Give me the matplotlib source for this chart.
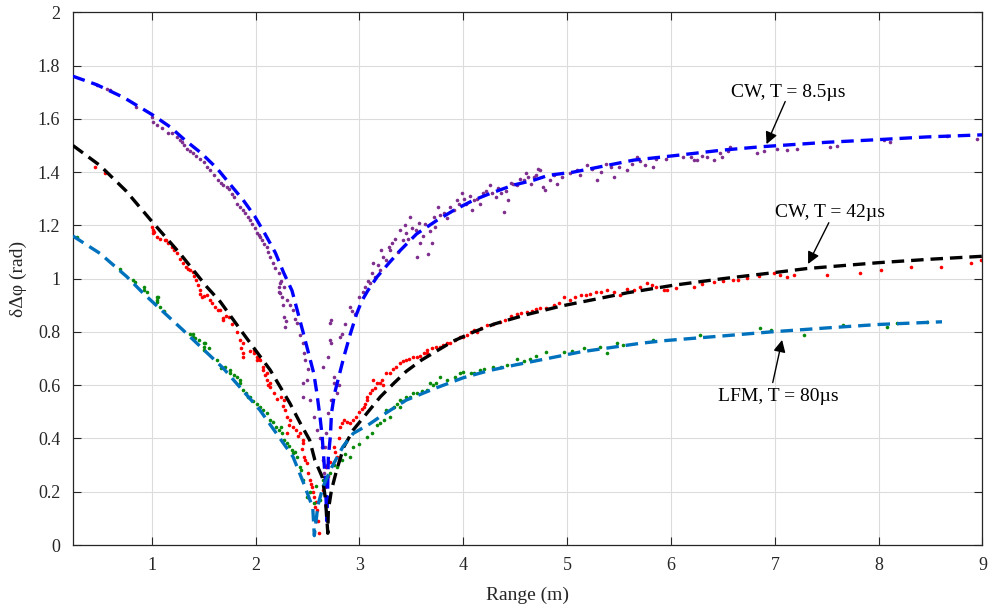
import matplotlib
matplotlib.use("Agg")
import matplotlib.pyplot as plt
from matplotlib.ticker import FuncFormatter

plt.rcParams['font.family'] = ['Liberation Serif', 'DejaVu Serif']
plt.rcParams['lines.scale_dashes'] = False

# ---------------- data ----------------
# fitted curves
cw85_x = [0.24, 0.47, 0.73, 1.015, 1.175, 1.32, 1.48, 1.63, 1.75, 1.88, 1.99, 2.09, 2.19, 2.27, 2.35, 2.40, 2.46, 2.51,
          2.56, 2.59, 2.62, 2.64, 2.655, 2.67, 2.68, 2.685,
          2.69, 2.70, 2.72, 2.73, 2.76, 2.85, 2.91, 2.97, 3.02, 3.08, 3.17, 3.28, 3.39, 3.55, 3.75, 3.91, 4.10, 4.26,
          4.48, 4.68, 4.82, 5.06, 5.64, 6.06, 6.48, 6.86, 7.5, 8.0, 8.46, 9.0]
cw85_y = [1.76, 1.728, 1.68, 1.613, 1.57, 1.52, 1.47, 1.413, 1.356, 1.295, 1.235, 1.168, 1.097, 1.022, 0.955, 0.882,
          0.794, 0.719, 0.644, 0.569, 0.48, 0.41, 0.33, 0.25, 0.15, 0.09,
          0.15, 0.33, 0.41, 0.494, 0.569, 0.707, 0.79, 0.865, 0.915, 0.955, 1.007, 1.057, 1.105, 1.168, 1.22, 1.257,
          1.295, 1.32, 1.351, 1.37, 1.388, 1.40, 1.445, 1.463, 1.482, 1.495, 1.512, 1.522, 1.532, 1.54]

cw42_x = [0.24, 0.5, 0.75, 1.0, 1.27, 1.53, 1.66, 1.88, 2.14, 2.33, 2.43, 2.52, 2.57, 2.64, 2.67, 2.685, 2.695,
          2.70, 2.73, 2.78, 2.85, 2.94, 3.07, 3.20, 3.33, 3.45, 3.6, 3.78, 3.9, 4.1, 4.3, 4.61, 4.94, 5.3, 5.58, 6.02,
          6.5, 7.0, 7.31, 8.0, 8.5, 9.0]
cw42_y = [1.50, 1.425, 1.33, 1.215, 1.095, 0.969, 0.913, 0.794, 0.657, 0.532, 0.457, 0.394, 0.319, 0.256, 0.18, 0.10,
          0.044, 0.131, 0.206, 0.281, 0.369, 0.432, 0.494, 0.556, 0.607, 0.652, 0.695, 0.737, 0.765, 0.80, 0.83, 0.865,
          0.897, 0.925, 0.947, 0.975, 1.0, 1.023, 1.038, 1.06, 1.073, 1.084]

lfm_x = [0.24, 0.5, 0.76, 0.92, 1.30, 1.69, 2.04, 2.36, 2.46, 2.55, 2.565,
         2.60, 2.65, 2.73, 2.84, 2.94, 3.1, 3.2, 3.45, 3.74, 4.0, 4.25, 4.5, 5.13, 5.7, 5.93, 6.5, 6.96, 7.5, 8.0, 8.61]
lfm_y = [1.16, 1.095, 1.007, 0.944, 0.807, 0.663, 0.507, 0.331, 0.234, 0.14, 0.035,
         0.15, 0.22, 0.29, 0.369, 0.419, 0.455, 0.482, 0.544, 0.59, 0.628, 0.655, 0.676, 0.725, 0.757, 0.767, 0.785,
         0.80, 0.815, 0.828, 0.838]

# measured points, CW T = 8.5 us
p85_x = [0.47, 0.57, 0.60, 0.85, 1.00, 1.015, 1.05, 1.19, 1.24, 1.29, 1.34, 1.40, 1.46, 1.50, 1.56, 1.64, 1.69, 1.74,
         1.79, 1.82, 1.88, 1.93, 1.95, 1.96, 2.01, 2.04, 2.06, 2.11, 2.14, 2.17, 2.22, 2.22, 2.235, 2.22, 2.23, 2.25,
         2.27, 2.27, 2.28, 2.30, 2.36, 2.40, 2.46, 2.48, 2.49, 2.46, 2.46, 2.52, 2.56, 2.59, 2.62, 2.64, 2.65, 2.66,
         2.65, 2.67, 2.68, 2.69, 2.70, 2.70, 2.72, 2.72, 2.73, 2.73, 2.73, 2.75, 2.75, 2.78, 2.81, 2.83, 2.91, 2.96,
         3.05, 3.10, 3.13, 3.15, 3.20, 3.21, 3.26, 3.29, 3.31, 3.39, 3.42, 3.45, 3.49, 3.54, 3.55, 3.58, 3.63, 3.66,
         3.70, 3.73, 3.76, 3.81, 3.84, 3.91, 3.94, 3.99, 4.03, 4.08, 4.10, 4.16, 4.19, 4.26, 4.31, 4.36, 4.39, 4.43,
         4.48, 4.55, 4.58, 4.60, 4.65, 4.68, 4.72, 4.74, 4.77, 4.79, 4.87, 4.90, 5.03, 5.09, 5.19, 5.29, 5.37, 5.42,
         5.45, 5.58, 5.67, 5.75, 5.83, 5.86, 6.12, 6.19, 6.22, 6.25, 6.35, 6.41, 6.47, 6.49, 6.57, 6.83, 7.02, 7.12,
         7.21, 7.53, 7.60, 8.05, 8.11, 8.66, 8.95,
         1.10, 1.16, 1.27, 1.31, 1.37, 1.43, 1.53, 1.60, 1.67, 1.72, 1.77, 1.85, 1.90, 1.99, 2.03, 2.08, 2.12, 2.19,
         2.24, 2.26, 2.29, 2.33, 2.38, 2.43, 2.47, 2.50,
         2.80, 2.86, 2.93, 3.00, 3.03, 3.08, 3.12, 3.18, 3.23, 3.28, 3.34, 3.37, 3.44, 3.47, 3.51, 3.57, 3.61, 3.68,
         3.72, 3.78, 3.87, 3.96, 4.01, 4.06, 4.13, 4.22, 4.28, 4.33, 4.41, 4.46, 4.52, 4.62, 4.70, 4.83, 4.95, 5.12,
         5.24, 5.33, 5.50, 5.62, 5.70, 5.95, 6.30, 6.55, 6.90]
p85_y = [1.726, 1.713, 1.71, 1.645, 1.607, 1.588, 1.576, 1.545, 1.532, 1.513, 1.488, 1.47, 1.451, 1.438, 1.407, 1.37,
         1.351, 1.338, 1.307, 1.282, 1.257, 1.232, 1.22, 1.207, 1.17, 1.157, 1.144, 1.12, 1.082, 1.057, 1.02, 0.969,
         0.982, 0.95, 0.945, 0.932, 0.969, 0.857, 0.819, 0.919, 0.882, 0.832, 0.757, 0.694, 0.619, 0.556, 0.607, 0.544,
         0.482, 0.432, 0.40, 0.369, 0.319, 0.27, 0.669, 0.369, 0.419, 0.30, 0.494, 0.707, 0.769, 0.832, 0.844, 0.544,
         0.757, 0.607, 0.632, 0.569, 0.782, 0.794, 0.894, 0.869, 0.969, 0.982, 1.057, 1.007, 1.032, 1.107, 1.069,
         1.107, 1.132, 1.182, 1.144, 1.17, 1.232, 1.182, 1.082, 1.132, 1.207, 1.094, 1.132, 1.195, 1.27, 1.245, 1.226,
         1.257, 1.295, 1.32, 1.282, 1.257, 1.295, 1.282, 1.32, 1.351, 1.307, 1.32, 1.251, 1.295, 1.357, 1.376, 1.37,
         1.395, 1.357, 1.382, 1.413, 1.407, 1.345, 1.332, 1.388, 1.357, 1.395, 1.407, 1.426, 1.37, 1.432, 1.42, 1.382,
         1.407, 1.457, 1.426, 1.42, 1.451, 1.457, 1.457, 1.445, 1.445, 1.457, 1.445, 1.47, 1.457, 1.495, 1.47, 1.488,
         1.482, 1.485, 1.495, 1.497, 1.52, 1.513, 1.535, 1.526,
         1.565, 1.548, 1.52, 1.50, 1.478, 1.46, 1.42, 1.39, 1.36, 1.345, 1.318, 1.27, 1.245, 1.19, 1.165, 1.13, 1.10,
         1.04, 0.99, 0.90, 0.84, 0.90, 0.85, 0.79, 0.72, 0.66,
         0.60, 0.83, 0.88, 0.93, 0.95, 0.99, 1.02, 1.05, 1.08, 1.12, 1.15, 1.10, 1.20, 1.15, 1.19, 1.21, 1.16, 1.18,
         1.23, 1.24, 1.27, 1.28, 1.30, 1.31, 1.30, 1.33, 1.32, 1.34, 1.33, 1.36, 1.35, 1.38, 1.39, 1.37, 1.38, 1.39,
         1.41, 1.40, 1.42, 1.43, 1.44, 1.45, 1.46, 1.48, 1.48]

# measured points, CW T = 42 us
p42_x = [0.45, 0.55, 1.00, 1.015, 1.015, 1.05, 1.13, 1.14, 1.16, 1.21, 1.24, 1.30, 1.35, 1.37, 1.40, 1.43, 1.46, 1.46,
         1.48, 1.53, 1.56, 1.64, 1.66, 1.69, 1.69, 1.74, 1.85, 1.88, 1.88, 1.88, 1.98, 1.98, 2.01, 2.01, 2.04, 2.07,
         2.07, 2.11, 2.11, 2.14, 2.14, 2.24, 2.27, 2.28, 2.30, 2.30, 2.33, 2.36, 2.43, 2.46, 2.46, 2.48, 2.49, 2.52,
         2.54, 2.56, 2.57, 2.59, 2.61, 2.65, 2.67, 2.68, 2.75, 2.78, 2.81, 2.83, 2.85, 2.91, 2.94, 3.04, 3.07, 3.07,
         3.10, 3.12, 3.13, 3.17, 3.20, 3.23, 3.26, 3.29, 3.39, 3.45, 3.52, 3.55, 3.65, 3.65, 3.74, 3.84, 3.87, 3.97,
         4.00, 4.10, 4.13, 4.23, 4.35, 4.52, 4.61, 4.74, 4.87, 4.97, 5.03, 5.13, 5.22, 5.38, 5.51, 5.64, 5.77, 5.86,
         5.93, 5.96, 6.22, 6.41, 6.60, 6.73, 6.99, 7.12, 7.18, 7.50, 7.82, 8.02, 8.31, 8.60, 8.89, 8.99,
         1.02, 1.08, 1.19, 1.27, 1.33, 1.41, 1.44, 1.50, 1.58, 1.61, 1.71, 1.77, 1.82, 1.86, 1.95, 2.03, 2.09, 2.12,
         2.18, 2.21, 2.26, 2.32, 2.39, 2.41, 2.45, 2.47, 2.50, 2.53, 2.55, 2.58, 2.60,
         2.70, 2.72, 2.76, 2.80, 2.88, 2.97, 3.00, 3.02, 3.05, 3.15, 3.22, 3.32, 3.35, 3.42, 3.48, 3.58, 3.62, 3.70,
         3.78, 3.80, 3.92, 4.04, 4.07, 4.17, 4.29, 4.40, 4.46, 4.56, 4.66, 4.70, 4.80, 4.92, 5.08, 5.18, 5.28, 5.33,
         5.45, 5.58, 5.70, 5.82, 6.05, 6.30, 6.50, 6.65, 6.85, 7.05]
p42_y = [1.42, 1.395, 1.195, 1.17, 1.182, 1.157, 1.144, 1.144, 1.132, 1.107, 1.095, 1.057, 1.038, 1.032, 1.026, 0.994,
         0.957, 0.944, 0.932, 0.938, 0.919, 0.882, 0.882, 0.851, 0.844, 0.857, 0.769, 0.719, 0.757, 0.707, 0.719, 0.732,
         0.694, 0.707, 0.694, 0.657, 0.669, 0.619, 0.644, 0.594, 0.607, 0.556, 0.544, 0.507, 0.482, 0.419, 0.469, 0.444,
         0.42, 0.382, 0.394, 0.319, 0.307, 0.244, 0.219, 0.181, 0.144, 0.131, 0.044, 0.206, 0.219, 0.294, 0.369, 0.331,
         0.444, 0.457, 0.469, 0.457, 0.469, 0.519, 0.544, 0.556, 0.569, 0.582, 0.619, 0.607, 0.607, 0.60, 0.644, 0.644,
         0.682, 0.694, 0.707, 0.707, 0.719, 0.732, 0.744, 0.757, 0.757, 0.782, 0.782, 0.807, 0.80, 0.826, 0.838, 0.869,
         0.875, 0.888, 0.90, 0.932, 0.919, 0.938, 0.944, 0.957, 0.938, 0.957, 0.982, 0.969, 0.957, 0.957, 0.969, 0.988,
         0.994, 1.001, 1.02, 1.007, 1.013, 1.013, 1.02, 1.032, 1.044, 1.044, 1.057, 1.07,
         1.175, 1.15, 1.12, 1.075, 1.045, 1.01, 0.975, 0.935, 0.91, 0.895, 0.86, 0.83, 0.80, 0.74, 0.73, 0.70, 0.64,
         0.60, 0.57, 0.55, 0.52, 0.45, 0.43, 0.41, 0.36, 0.33, 0.27, 0.23, 0.20, 0.16, 0.09,
         0.26, 0.31, 0.35, 0.40, 0.46, 0.48, 0.50, 0.51, 0.53, 0.59, 0.62, 0.66, 0.67, 0.69, 0.70, 0.71, 0.72, 0.74,
         0.745, 0.75, 0.77, 0.79, 0.80, 0.815, 0.83, 0.845, 0.86, 0.87, 0.88, 0.885, 0.89, 0.91, 0.93, 0.94, 0.95, 0.95,
         0.95, 0.96, 0.97, 0.975, 0.965, 0.98, 0.99, 0.995, 1.01, 1.015]

# measured points, LFM T = 80 us
p80_x = [0.28, 0.69, 0.82, 0.84, 0.92, 0.92, 0.95, 1.05, 1.05, 1.05, 1.06, 1.08, 1.37, 1.40, 1.40, 1.42, 1.50, 1.50,
         1.50, 1.51, 1.63, 1.67, 1.75, 1.75, 1.82, 1.85, 1.85, 1.88, 1.91, 1.93, 1.95, 2.04, 2.07, 2.11, 2.14, 2.20,
         2.24, 2.25, 2.27, 2.30, 2.35, 2.36, 2.40, 2.43, 2.46, 2.49, 2.56, 2.62, 2.65, 2.72, 2.78, 2.91, 2.94, 3.07,
         3.20, 3.26, 3.29, 3.33, 3.39, 3.39, 3.45, 3.49, 3.52, 3.65, 3.68, 3.74, 3.78, 3.84, 3.97, 4.00, 4.07, 4.10,
         4.16, 4.29, 4.42, 4.52, 4.64, 4.80, 4.97, 5.16, 5.32, 5.38, 5.48, 5.54, 5.83, 6.28, 6.86, 6.96, 7.28, 7.66,
         8.08, 8.18, 8.47,
         1.12, 1.45, 1.55, 1.70, 1.79, 1.97, 2.01, 2.17, 2.22, 2.32, 2.38, 2.44, 2.52, 2.58, 2.68, 2.75, 2.83, 2.86,
         3.00, 3.12, 3.17, 3.24, 3.36, 3.42, 3.55, 3.60, 3.71, 3.92, 4.20, 4.36, 4.58, 4.70, 5.05]
p80_y = [1.157, 1.038, 0.994, 0.988, 0.969, 0.957, 0.951, 0.932, 0.919, 0.913, 0.932, 0.894, 0.794, 0.794, 0.782, 0.776,
         0.757, 0.744, 0.732, 0.757, 0.694, 0.663, 0.657, 0.644, 0.632, 0.607, 0.619, 0.582, 0.569, 0.556, 0.556, 0.519,
         0.507, 0.494, 0.469, 0.444, 0.444, 0.419, 0.394, 0.382, 0.357, 0.344, 0.331, 0.294, 0.244, 0.181, 0.156, 0.169,
         0.244, 0.269, 0.294, 0.331, 0.369, 0.406, 0.457, 0.507, 0.482, 0.519, 0.519, 0.544, 0.556, 0.556, 0.569, 0.582,
         0.607, 0.607, 0.632, 0.619, 0.644, 0.65, 0.644, 0.644, 0.657, 0.669, 0.675, 0.70, 0.70, 0.725, 0.725, 0.738,
         0.744, 0.719, 0.757, 0.75, 0.769, 0.788, 0.813, 0.807, 0.788, 0.826, 0.819, 0.832, 0.838,
         0.88, 0.77, 0.74, 0.67, 0.64, 0.54, 0.53, 0.46, 0.43, 0.37, 0.35, 0.28, 0.20, 0.22, 0.25, 0.30, 0.32, 0.34,
         0.38, 0.42, 0.45, 0.47, 0.53, 0.54, 0.57, 0.58, 0.60, 0.63, 0.66, 0.67, 0.69, 0.71, 0.73]

x_ticks = [1, 2, 3, 4, 5, 6, 7, 8, 9]
y_ticks = [0, 0.2, 0.4, 0.6, 0.8, 1.0, 1.2, 1.4, 1.6, 1.8, 2.0]

labels = ["CW, T = 8.5\u00b5s", "CW, T = 42\u00b5s", "LFM, T = 80\u00b5s"]
label_xy = [(7.13, 1.70), (7.53, 1.25), (7.03, 0.556)]
arrow_tail = [(7.10, 1.665), (7.52, 1.21), (6.98, 0.61)]
arrow_head = [(6.92, 1.505), (7.32, 1.055), (7.07, 0.77)]

# ---------------- figure ----------------
fig = plt.figure(figsize=(9.92, 6.12), dpi=100)
ax = fig.add_axes([72.7 / 992, 1 - 545 / 612, (982.5 - 72.7) / 992, (545 - 12.3) / 612])

ms = 2.6
ax.plot(p85_x, p85_y, 'o', color='#7E2F8E', ms=ms, mew=0, zorder=2)
ax.plot(p42_x, p42_y, 'o', color='#FF0000', ms=ms, mew=0, zorder=2)
ax.plot(p80_x, p80_y, 'o', color='#0A8A0A', ms=ms, mew=0, zorder=2)

lw = 2.4
ax.plot(cw85_x, cw85_y, color='#0000FF', lw=lw, dashes=(9, 5), zorder=3)
ax.plot(cw42_x, cw42_y, color='#000000', lw=lw, dashes=(9, 5), zorder=3)
ax.plot(lfm_x, lfm_y, color='#0072BD', lw=lw, dashes=(9, 5), zorder=3)

for txt, xy, tail, head in zip(labels, label_xy, arrow_tail, arrow_head):
    ax.text(xy[0], xy[1], txt, ha='center', va='center', fontsize=14, zorder=5)
    ax.annotate('', xy=head, xytext=tail,
                arrowprops=dict(arrowstyle='-|>', color='k', lw=1.0, mutation_scale=18,
                                shrinkA=0, shrinkB=0), zorder=5)

ax.set_xlim(0.238, 9)
ax.set_ylim(0, 2)
ax.set_xticks(x_ticks)
ax.set_yticks(y_ticks)
ax.yaxis.set_major_formatter(FuncFormatter(lambda v, p: f'{v:g}'))
ax.grid(True, color='#DCDCDC', lw=0.8)
ax.set_axisbelow(True)
ax.tick_params(direction='in', top=True, right=True, length=6, width=0.8,
               labelsize=13, colors='#262626', pad=9)
for s in ax.spines.values():
    s.set_color('#262626')
    s.set_linewidth(0.9)

ax.set_xlabel('Range (m)', fontsize=14, color='#262626', labelpad=9)
ax.set_ylabel('\u03b4\u0394\u03c6 (rad)', fontsize=14, color='#262626', labelpad=8)

fig.savefig('out.png', dpi=100)
